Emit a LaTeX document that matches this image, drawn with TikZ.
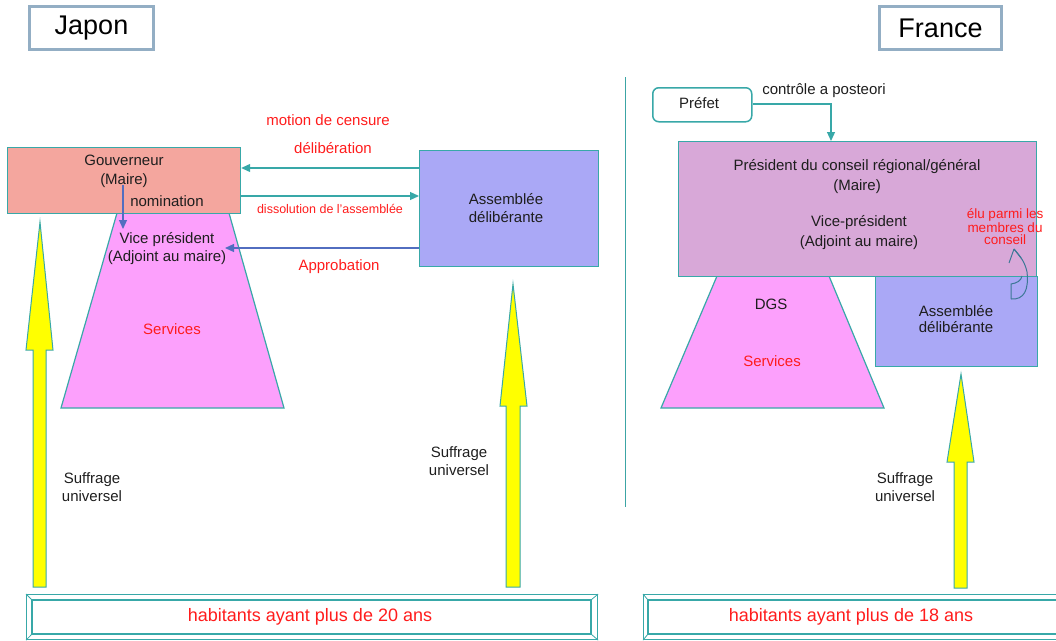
\documentclass[tikz,border=0pt]{standalone}
\usepackage{fontspec}
\setmainfont{Liberation Sans}
\usetikzlibrary{arrows.meta,calc}
\definecolor{tealb}{RGB}{56,168,168}
\definecolor{sepc}{RGB}{60,165,165}
\definecolor{salmon}{RGB}{244,166,158}
\definecolor{lav}{RGB}{170,168,246}
\definecolor{pinkf}{RGB}{252,160,252}
\definecolor{mauve}{RGB}{216,168,216}
\definecolor{redc}{RGB}{255,28,28}
\definecolor{bluea}{RGB}{82,110,192}
\definecolor{grayb}{RGB}{147,174,196}
\definecolor{textc}{RGB}{30,30,30}
\definecolor{yell}{RGB}{255,255,0}
\definecolor{curvc}{RGB}{60,120,150}
\begin{document}
\begin{tikzpicture}[x=1pt,y=-1pt,
  boxn/.style={draw=tealb, line width=1.2pt, inner sep=0pt, anchor=north west},
  txt/.style={font=\fontsize{15}{18}\selectfont, text=textc, align=center, inner sep=0pt},
  redt/.style={txt, text=redc},
  titlen/.style={draw=grayb, line width=3pt, fill=white, inner sep=0pt, anchor=north west,
     font=\fontsize{27}{30}\selectfont, text=black},
  tarr/.style={draw=tealb, line width=1.2pt, -{Triangle[length=9pt,width=8pt]}},
  barr/.style={draw=bluea, line width=1.2pt, -{Triangle[length=9pt,width=8pt]}},
  yarr/.style={fill=yell, draw=tealb, line width=1pt},
  trap/.style={fill=pinkf, draw=tealb, line width=1.2pt},
  frame/.style={draw=tealb, line width=1.2pt, inner sep=0pt, anchor=north west},
  habt/.style={font=\fontsize{18}{20}\selectfont, text=redc, inner sep=0pt}
]
\useasboundingbox (0,0) rectangle (1056,640);
\clip (0,0) rectangle (1056,640);

% titles
\node[titlen, minimum width=124, minimum height=43] (japon) at (28,5) {Japon};
\node[titlen, minimum width=122, minimum height=43] (france) at (878,5) {France};

% separator
\coordinate (sepT) at (625,77);
\coordinate (sepB) at (625,507);
\draw[sepc, line width=1pt] (sepT) -- (sepB);

% ---------------- Japon ----------------
\draw[trap] (117,213) -- (229,213) -- (284,408) -- (61,408) -- cycle;
\node[redt] (servJ) at (172,329) {Services};

\node[boxn, fill=salmon, minimum width=233, minimum height=66] (gouv) at (7,147) {};
\node[txt, font=\fontsize{15}{19}\selectfont] (gouvt) at (124,171) {Gouverneur\\(Maire)};
\node[txt] (nomin) at (167,201) {nomination};
\node[txt] (vp) at (167,249) {Vice président\\(Adjoint au maire)};

\node[boxn, fill=lav, minimum width=179, minimum height=116] (assJ) at (419,150) {};
\node[txt] (assJt) at (506,208) {Assemblée\\délibérante};

\draw[tarr] (assJ.west |- 0,168) -- (gouv.east |- 0,168);
\draw[tarr] (gouv.east |- 0,196) -- (assJ.west |- 0,196);
\coordinate (vpR) at (225,248);
\draw[barr] (assJ.west |- vpR) -- (vpR);
\coordinate (nomTop) at (123,185);
\coordinate (nomEnd) at (123,229);
\draw[barr] (nomTop) -- (nomEnd);

\node[redt] (motion) at (328,120) {motion de censure};
\node[redt] (delib) at (333,148) {délibération};
\node[redt, font=\fontsize{12.5}{14}\selectfont] (dissol) at (330,209) {dissolution de l'assemblée};
\node[redt] (approb) at (339,267) {Approbation};

% yellow arrows
\draw[yarr] (33,587) -- (33,350) -- (26,350) -- (40,222) -- (53,350) -- (46,350) -- (46,587) -- cycle;
\draw[yarr] (506,587) -- (506,406) -- (500,406) -- (513,284) -- (527,406) -- (520,406) -- (520,587) -- cycle;
\node[txt] (sufJ1) at (92,487) {Suffrage\\universel};
\node[txt] (sufJ2) at (459,461) {Suffrage\\universel};

% bottom frame left
\node[frame, minimum width=571, minimum height=45] (habJ) at (26,594) {};
\coordinate (hJa) at (32,600);
\coordinate (hJb) at (591,634);
\draw[tealb, line width=1.2pt] (hJa) rectangle (hJb);
\draw[tealb, line width=0.8pt] (habJ.north west) -- (hJa) (habJ.north east) -- (hJa -| hJb) (habJ.south west) -- (hJa |- hJb) (habJ.south east) -- (hJb);
\node[habt] (habJt) at (310,617) {habitants ayant plus de 20 ans};

% ---------------- France ----------------
\draw[trap] (717,276) -- (829,276) -- (884,408) -- (661,408) -- cycle;
\node[txt] (dgs) at (771,304) {DGS};
\node[redt] (servF) at (772,361) {Services};

\node[boxn, fill=mauve, minimum width=358, minimum height=135] (pres) at (678,141) {};
\node[txt, font=\fontsize{15}{20}\selectfont] (prest) at (857,177) {Président du conseil régional/général\\(Maire)};
\node[txt, font=\fontsize{15}{20}\selectfont] (vpF) at (859,233) {Vice-président\\(Adjoint au maire)};

\node[boxn, fill=lav, minimum width=162, minimum height=90] (assF) at (875,276) {};
\node[txt, font=\fontsize{15}{16}\selectfont] (assFt) at (956,319) {Assemblée\\délibérante};

\node[redt, font=\fontsize{13.5}{12.5}\selectfont] (elu) at (1005,227) {élu parmi les\\membres du\\conseil};

% curved arrow (élu)
\coordinate (cvA) at (1011,299);
\coordinate (cvB) at (1014,249);
\draw[curvc, line width=1pt] (cvA) -- (1011,284) .. controls (1017,283) and (1021,281) .. (1022,276);
\draw[curvc, line width=1pt] (cvA) .. controls (1024,300) and (1029,290) .. (1027,272) .. controls (1025,262) and (1020,256) .. (cvB);
\draw[curvc, line width=1pt] (cvB) -- (1009,263) (cvB) -- (1021,258);

% Préfet
\node[draw=tealb, line width=1.5pt, rounded corners=6pt, minimum width=99, minimum height=34, anchor=north west, inner sep=0pt] (prefet) at (652,87) {};
\node[txt] (prefett) at (699,103) {Préfet};
\node[txt] (controle) at (824,91) {contrôle a posteori};
\draw[tarr] (prefet.east |- 0,104) -| (pres.north -| 831,0);

% yellow arrow right
\draw[yarr] (954,588) -- (954,462) -- (947,462) -- (961,374) -- (974,462) -- (967,462) -- (967,588) -- cycle;
\node[txt] (sufF) at (905,487) {Suffrage\\universel};

% bottom frame right
\node[frame, minimum width=440, minimum height=45] (habF) at (643,594) {};
\coordinate (hFa) at (648,600);
\coordinate (hFb) at (1078,634);
\draw[tealb, line width=1.2pt] (hFa) rectangle (hFb);
\draw[tealb, line width=0.8pt] (habF.north west) -- (hFa) (habF.south west) -- (hFa |- hFb);
\node[habt] (habFt) at (851,617) {habitants ayant plus de 18 ans};
\end{tikzpicture}
\end{document}
